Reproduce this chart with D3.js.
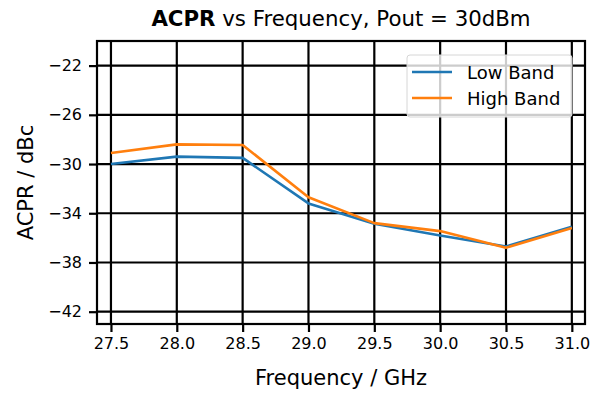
<!DOCTYPE html>
<html>
<head>
<meta charset="utf-8">
<script src="https://cdn.jsdelivr.net/npm/d3@7"></script>
<style>
  html, body { margin: 0; padding: 0; background: #fff; }
  svg { display: block; font-family: "DejaVu Sans", sans-serif; }
</style>
</head>
<body>
<svg id="chart" width="601" height="394"></svg>
<script>
// Measured ACPR per frequency point, Pout = 30 dBm
const frequencies = [27.5, 28.0, 28.5, 29.0, 29.5, 30.0, 30.5, 31.0];
const lowBand  = [-30.0, -29.4, -29.5, -33.2, -34.85, -35.8, -36.7, -35.1];
const highBand = [-29.1, -28.4, -28.45, -32.7, -34.8, -35.45, -36.8, -35.2];
const xTicks = [27.5, 28.0, 28.5, 29.0, 29.5, 30.0, 30.5, 31.0];
const yTicks = [-22, -26, -30, -34, -38, -42];
const seriesNames = ["Low Band", "High Band"];
const seriesColors = ["#1f77b4", "#ff7f0e"];

const svg = d3.select("#chart");
const plot = { left: 97, top: 41, right: 585, bottom: 324 };

const x = d3.scaleLinear().domain([27.394, 31.1]).range([plot.left, plot.right]);
const y = d3.scaleLinear().domain([-43, -20]).range([plot.bottom, plot.top]);

// Grid
const grid = svg.append("g");
grid.selectAll("line.gx").data(xTicks).join("line")
  .attr("x1", d => x(d)).attr("x2", d => x(d))
  .attr("y1", plot.top).attr("y2", plot.bottom)
  .attr("stroke", "#000").attr("stroke-width", 2.2);
grid.selectAll("line.gy").data(yTicks).join("line")
  .attr("x1", plot.left).attr("x2", plot.right)
  .attr("y1", d => y(d)).attr("y2", d => y(d))
  .attr("stroke", "#000").attr("stroke-width", 2.2);

// Axes
const xAxis = d3.axisBottom(x).tickValues(xTicks).tickFormat(d3.format(".1f"))
  .tickSize(8).tickPadding(6);
const yAxis = d3.axisLeft(y).tickValues(yTicks).tickFormat(d => "\u2212" + Math.abs(d))
  .tickSize(8).tickPadding(7);

const gx = svg.append("g").attr("transform", `translate(0,${plot.bottom})`).call(xAxis);
const gy = svg.append("g").attr("transform", `translate(${plot.left},0)`).call(yAxis);
[gx, gy].forEach(g => {
  g.select(".domain").remove();
  g.selectAll(".tick line").attr("stroke", "#000").attr("stroke-width", 2.2);
  g.selectAll(".tick text").attr("fill", "#000")
    .style("font-family", "DejaVu Sans").style("font-size", "16px");
});

// Series lines
const line = d3.line().x((d, i) => x(frequencies[i])).y(d => y(d));
[lowBand, highBand].forEach((s, k) => {
  svg.append("path").datum(s)
    .attr("d", line)
    .attr("fill", "none")
    .attr("stroke", seriesColors[k])
    .attr("stroke-width", 2.6)
    .attr("stroke-linejoin", "round");
});

// Frame
svg.append("rect")
  .attr("x", plot.left).attr("y", plot.top)
  .attr("width", plot.right - plot.left).attr("height", plot.bottom - plot.top)
  .attr("fill", "none").attr("stroke", "#000").attr("stroke-width", 2.2);

// Legend
const lg = svg.append("g");
lg.append("rect")
  .attr("x", 407).attr("y", 55).attr("width", 165).attr("height", 62)
  .attr("rx", 3).attr("fill", "#fff").attr("fill-opacity", 0.8)
  .attr("stroke", "#d6d6d6").attr("stroke-width", 1);
seriesNames.forEach((name, k) => {
  const yy = 72 + k * 26;
  lg.append("line").attr("x1", 412).attr("x2", 452).attr("y1", yy).attr("y2", yy)
    .attr("stroke", seriesColors[k]).attr("stroke-width", 2.6);
  lg.append("text").attr("x", 467).attr("y", yy + 6.5)
    .style("font-size", "18px").attr("fill", "#000").text(name);
});

// Titles
const title = svg.append("text").attr("x", (plot.left + plot.right) / 2).attr("y", 26)
  .attr("text-anchor", "middle").style("font-size", "21.3px").attr("fill", "#000");
title.append("tspan").style("font-weight", "bold").text("ACPR");
title.append("tspan").text(" vs Frequency, Pout = 30dBm");

svg.append("text").attr("x", (plot.left + plot.right) / 2).attr("y", 385)
  .attr("text-anchor", "middle").style("font-size", "21px").attr("fill", "#000")
  .text("Frequency / GHz");

svg.append("text")
  .attr("transform", `translate(33,${(plot.top + plot.bottom) / 2}) rotate(-90)`)
  .attr("text-anchor", "middle").style("font-size", "21px").attr("fill", "#000")
  .text("ACPR / dBc");
</script>
</body>
</html>
